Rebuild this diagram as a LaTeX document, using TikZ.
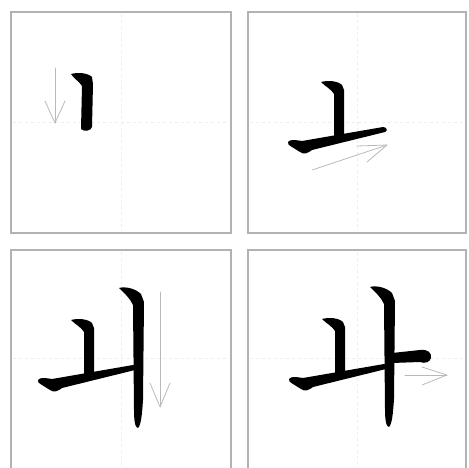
\documentclass[tikz,border=0pt]{standalone}
\begin{document}
\begin{tikzpicture}[x=1pt,y=-1pt,
  panel/.style={draw=gray!60,line width=1.8pt},
  guide/.style={draw=gray!14,line width=0.5pt,dashed},
  garrow/.style={draw=gray!55,line width=0.8pt,line cap=round,line join=round},
  ink/.style={fill=black}]
\useasboundingbox (0,0) rectangle (469,467);
\clip (0,0) rectangle (469,467);
% panels
\draw[panel] (11,12) rectangle (231,233);
\draw[panel] (248,12) rectangle (466,233);
\draw[panel] (11,250) rectangle (231,475);
\draw[panel] (248,250) rectangle (466,475);
% faint guide lines
\draw[guide] (121,14) -- (121,231) (13,122) -- (229,122);
\draw[guide] (357,14) -- (357,231) (250,122) -- (464,122);
\draw[guide] (121,252) -- (121,467) (13,358) -- (229,358);
\draw[guide] (357,252) -- (357,467) (250,358) -- (464,358);

% ---------- panel 1 ----------
\fill[ink] (71,74) .. controls (78,72) and (88,73) .. (92,77) -- (93,84) -- (92,127)
  .. controls (91,131) and (84,132) .. (81,129) -- (82,86)
  .. controls (79,81) and (74,79) .. (71,74) -- cycle;
\draw[garrow] (55,68) -- (55,123);
\draw[garrow] (45,101) -- (55,123) -- (65,101);

% ---------- panel 2 ----------
\begin{scope}
\fill[ink] (321,82) .. controls (328,80) and (338,81) .. (342,85) -- (344,90) -- (344,137)
  -- (334,139) -- (334,94) .. controls (331,89) and (326,87) .. (321,82) -- cycle;
\fill[ink] (288,142) .. controls (290,139) and (296,140) .. (302,141) -- (383,127)
  .. controls (387,127) and (388,131) .. (385,132) -- (312,150)
  .. controls (308,153) and (304,155) .. (300,152) -- (292,147)
  .. controls (289,145) and (287,144) .. (288,142) -- cycle;
\end{scope}
\draw[garrow] (312,170) -- (387,145);
\draw[garrow] (357,146) -- (387,145) -- (367,162);

% ---------- panel 3 ----------
\begin{scope}[shift={(-250,238)}]
\fill[ink] (321,82) .. controls (328,80) and (338,81) .. (342,85) -- (344,90) -- (344,137)
  -- (334,139) -- (334,94) .. controls (331,89) and (326,87) .. (321,82) -- cycle;
\fill[ink] (288,142) .. controls (290,139) and (296,140) .. (302,141) -- (383,127)
  .. controls (387,127) and (388,131) .. (385,132) -- (312,150)
  .. controls (308,153) and (304,155) .. (300,152) -- (292,147)
  .. controls (289,145) and (287,144) .. (288,142) -- cycle;
\end{scope}
\fill[ink] (119,288) .. controls (126,286) and (136,289) .. (141,294) -- (144,302) -- (143,400)
  .. controls (142,415) and (141,425) .. (138,428) .. controls (135,428) and (134,420) .. (134,410)
  -- (133,305) .. controls (130,298) and (124,293) .. (119,288) -- cycle;
\draw[garrow] (160,292) -- (160,407);
\draw[garrow] (150,383) -- (160,407) -- (170,383);

% ---------- panel 4 ----------
\begin{scope}[shift={(1,237)}]
\fill[ink] (321,82) .. controls (328,80) and (338,81) .. (342,85) -- (344,90) -- (344,137)
  -- (334,139) -- (334,94) .. controls (331,89) and (326,87) .. (321,82) -- cycle;
\fill[ink] (288,142) .. controls (290,139) and (296,140) .. (302,141) -- (383,127)
  .. controls (387,127) and (388,131) .. (385,132) -- (312,150)
  .. controls (308,153) and (304,155) .. (300,152) -- (292,147)
  .. controls (289,145) and (287,144) .. (288,142) -- cycle;
\end{scope}
\begin{scope}[shift={(251,-1)}]
\fill[ink] (119,288) .. controls (126,286) and (136,289) .. (141,294) -- (144,302) -- (143,400)
  .. controls (142,415) and (141,425) .. (138,428) .. controls (135,428) and (134,420) .. (134,410)
  -- (133,305) .. controls (130,298) and (124,293) .. (119,288) -- cycle;
\end{scope}
\fill[ink] (392,353) -- (420,350) .. controls (428,349) and (432,353) .. (431,358)
  .. controls (430,362) and (425,364) .. (420,362) -- (392,363) -- cycle;
\draw[garrow] (405,375) -- (447,375);
\draw[garrow] (422,367) -- (447,375) -- (422,385);
\end{tikzpicture}
\end{document}
